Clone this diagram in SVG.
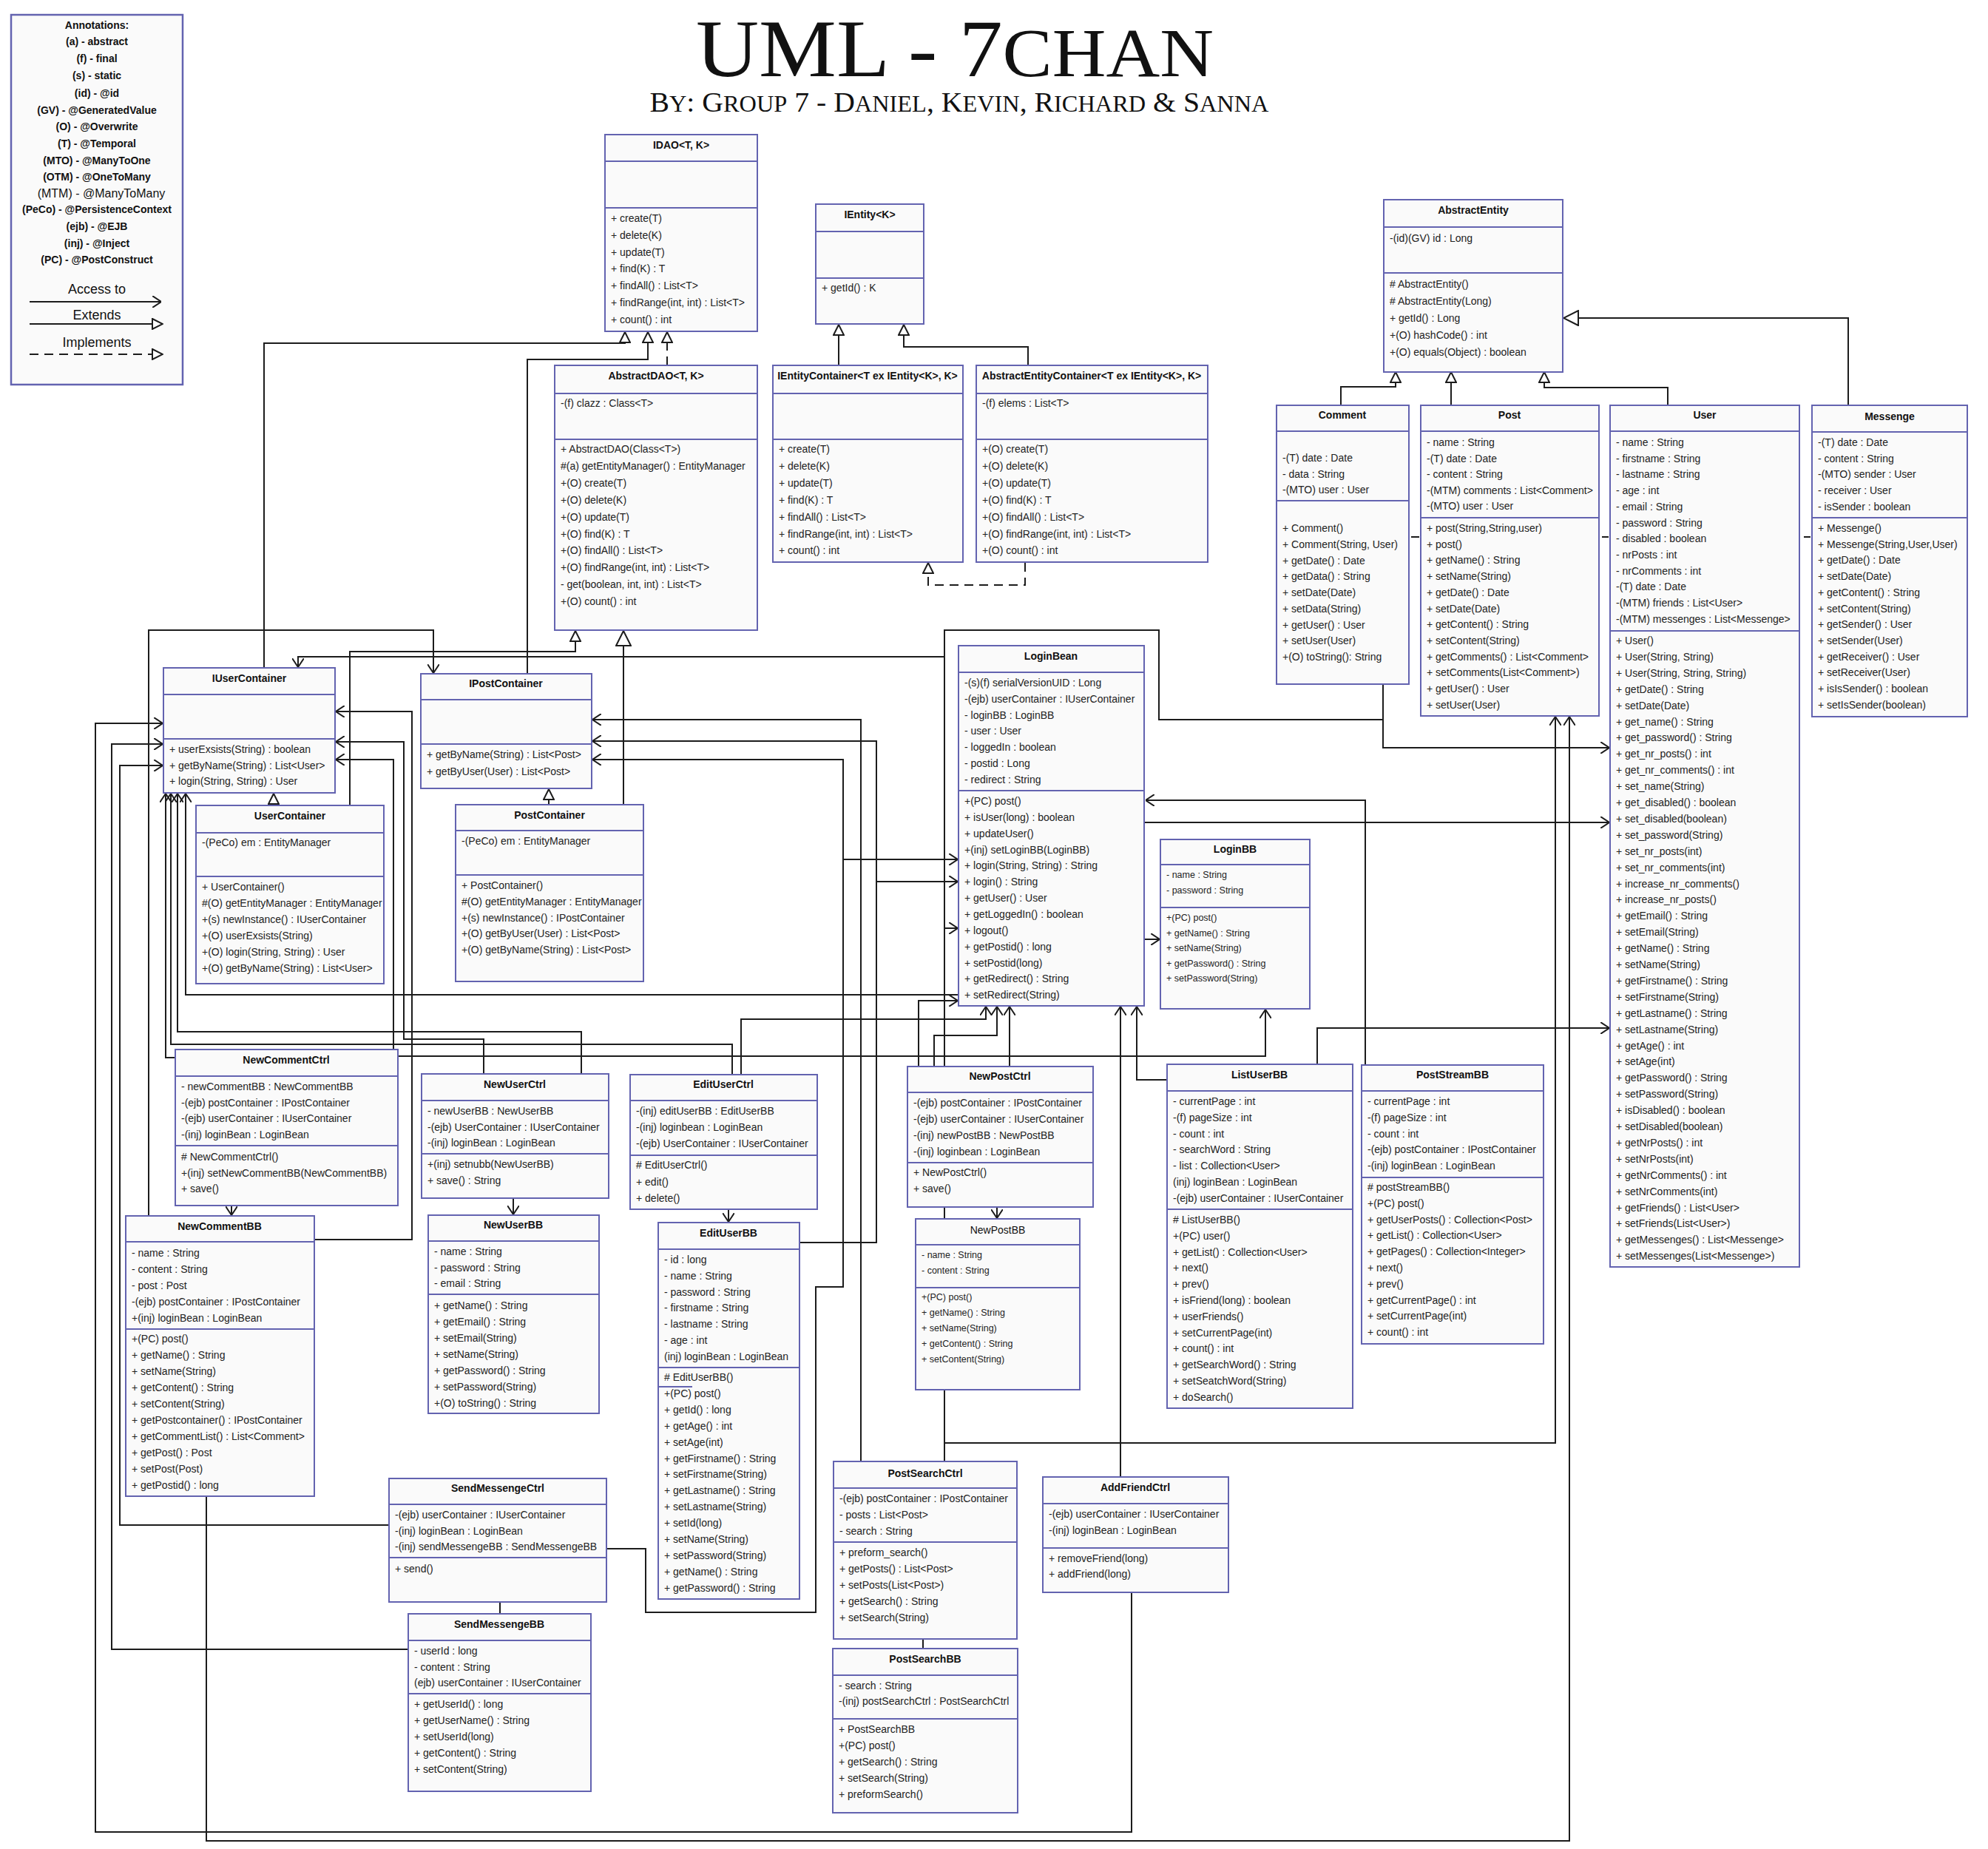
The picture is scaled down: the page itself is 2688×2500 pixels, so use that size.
<svg xmlns="http://www.w3.org/2000/svg" width="2688" height="2500" viewBox="0 0 2688 2500">
<defs>
<style>
.b{fill:#fafafa;stroke:#6363b0;stroke-width:2}
.d{fill:none;stroke:#6363b0;stroke-width:2}
.h{font-family:"Liberation Sans",Arial,sans-serif;font-size:14px;font-weight:bold;text-anchor:middle;fill:#111}
.t{font-family:"Liberation Sans",Arial,sans-serif;font-size:14px;fill:#222}
.s{font-family:"Liberation Sans",Arial,sans-serif;font-size:12.5px;fill:#222}
.c{fill:none;stroke:#1c1c1c;stroke-width:2}
.k{stroke-dasharray:12 8}
.a{marker-end:url(#op)}
.x{marker-end:url(#tr)}
.X{marker-end:url(#tb)}
.lg{font-family:"Liberation Sans",Arial,sans-serif;font-size:14px;font-weight:bold;text-anchor:middle;fill:#111}
</style>
<marker id="op" viewBox="0 0 12 16" refX="12" refY="8" markerWidth="12" markerHeight="16" markerUnits="userSpaceOnUse" orient="auto"><path d="M0 0L12 8L0 16" fill="none" stroke="#1c1c1c" stroke-width="2"/></marker>
<marker id="tr" viewBox="0 0 16 16" refX="15" refY="8" markerWidth="16" markerHeight="16" markerUnits="userSpaceOnUse" orient="auto"><path d="M1 1L15 8L1 15Z" fill="#fff" stroke="#1c1c1c" stroke-width="2"/></marker>
<marker id="tb" viewBox="0 0 22 22" refX="21" refY="11" markerWidth="22" markerHeight="22" markerUnits="userSpaceOnUse" orient="auto"><path d="M1 1L21 11L1 21Z" fill="#fff" stroke="#1c1c1c" stroke-width="2"/></marker>
</defs>
<rect width="2688" height="2500" fill="#fff"/>

<g id="legend">
<rect x="15" y="20" width="232" height="500" fill="#fafafa" stroke="#6363b0" stroke-width="2.5"/>
<text class="lg" x="131" y="39">Annotations:</text>
<text class="lg" x="131" y="61">(a) - abstract</text>
<text class="lg" x="131" y="84">(f) - final</text>
<text class="lg" x="131" y="107">(s) - static</text>
<text class="lg" x="131" y="131">(id) - @id</text>
<text class="lg" x="131" y="154">(GV) - @GeneratedValue</text>
<text class="lg" x="131" y="176">(O) - @Overwrite</text>
<text class="lg" x="131" y="199">(T) - @Temporal</text>
<text class="lg" x="131" y="222">(MTO) - @ManyToOne</text>
<text class="lg" x="131" y="244">(OTM) - @OneToMany</text>
<text class="lg" x="137" y="267" style="font-weight:normal;font-size:16px">(MTM) - @ManyToMany</text>
<text class="lg" x="131" y="288">(PeCo) - @PersistenceContext</text>
<text class="lg" x="131" y="311">(ejb) - @EJB</text>
<text class="lg" x="131" y="334">(inj) - @Inject</text>
<text class="lg" x="131" y="356">(PC) - @PostConstruct</text>
<text class="lg" x="131" y="397" style="font-weight:normal;font-size:18px">Access to</text>
<path class="c a" d="M40 408H218"/>
<text class="lg" x="131" y="432" style="font-weight:normal;font-size:18px">Extends</text>
<path class="c x" d="M40 438H220"/>
<text class="lg" x="131" y="469" style="font-weight:normal;font-size:18px">Implements</text>
<path class="c k x" d="M40 479H220"/>
</g>

<g id="title">
<text x="1291" y="103" text-anchor="middle" textLength="700" lengthAdjust="spacingAndGlyphs" style="font-family:'Liberation Serif',serif;font-size:110px;fill:#111">UML - 7<tspan font-size="94">CHAN</tspan></text>
<text x="1297" y="151" text-anchor="middle" textLength="837" lengthAdjust="spacingAndGlyphs" style="font-family:'Liberation Serif',serif;font-size:38px;fill:#111">B<tspan font-size="31">Y</tspan>: G<tspan font-size="31">ROUP</tspan> 7 - D<tspan font-size="31">ANIEL</tspan>, K<tspan font-size="31">EVIN</tspan>, R<tspan font-size="31">ICHARD</tspan> &amp; S<tspan font-size="31">ANNA</tspan></text>
</g>

<g id="connectors">
<path class="c x" d="M357 903V464H845V449"/>
<path class="c x" d="M713 911V486H876V449"/>
<path class="c k x" d="M902 494V449"/>
<path class="c x" d="M1134 494V439"/>
<path class="c x" d="M1390 494V469H1222V439"/>
<path class="c k x" d="M1386 761V791H1255V761"/>
<path class="c x" d="M473 1089V881H778V853"/>
<path class="c X" d="M843 1088V853"/>
<path class="c k x" d="M370 1089V1073"/>
<path class="c k x" d="M742 1088V1067"/>
<path class="c x" d="M1813 548V523H1887V503"/>
<path class="c x" d="M1962 548V503"/>
<path class="c x" d="M2255 548V524H2088V503"/>
<path class="c X" d="M2499 548V430H2114"/>
<path class="c" d="M1908 726H1919M2166 726H2175M2439 726H2448"/>
<path class="c a" d="M1870 925V1011H2176"/>
<path class="c" d="M1277 1976V852H1567V973H1870"/>
<path class="c a" d="M1277 888H403V902"/>
<path class="c a" d="M1277 1951H2103V969"/>
<path class="c a" d="M1277 1255H1295"/>
<path class="c a" d="M1164 1976V973H801"/>
<path class="c a" d="M1548 1112H2176"/>
<path class="c a" d="M1846 1440V1082H1549"/>
<path class="c a" d="M1781 1439V1390H2176"/>
<path class="c a" d="M1578 1460H1537V1361"/>
<path class="c a" d="M1515 1997V1361"/>
<path class="c a" d="M1548 1270H1568"/>
<path class="c a" d="M1365 1442V1361"/>
<path class="c a" d="M1242 1442V1353H1295"/>
<path class="c a" d="M1263 1442V1400H1348V1361"/>
<path class="c a" d="M538 1428H1711V1365"/>
<path class="c a" d="M1002 1453V1378H1333V1361"/>
<path class="c a" d="M990 1453V1412H231V1073"/>
<path class="c a" d="M786 1452V1395H240V1073"/>
<path class="c a" d="M654 1452V1405H546V1003H454"/>
<path class="c a" d="M1295 1345H251V1073"/>
<path class="c a" d="M1081 1680H1185V1002H801"/>
<path class="c a" d="M1185 1192H1295"/>
<path class="c a" d="M820 2094H873V2180H1103V1740H1140V1027H801"/>
<path class="c a" d="M1140 1162H1295"/>
<path class="c a" d="M313 1630V1643"/>
<path class="c a" d="M694 1620V1642"/>
<path class="c a" d="M985 1635V1652"/>
<path class="c a" d="M1348 1632V1647"/>
<path class="c" d="M676 2166V2182"/>
<path class="c" d="M1248 2216V2229"/>
<path class="c a" d="M1530 2153V2477H129V978H220"/>
<path class="c a" d="M552 2230H151V1006H220"/>
<path class="c a" d="M526 2062H162V1035H220"/>
<path class="c a" d="M425 1676H557V962H454"/>
<path class="c a" d="M201 1644V852H586V910"/>
<path class="c a" d="M237 1430H224V1073"/>
<path class="c a" d="M532 1419V1027H454"/>
<path class="c a" d="M279 2023V2489H2122V969"/>
</g>

<g id="IDAO">
<rect class="b" x="818" y="182" width="206" height="266"/>
<path class="d" d="M818 218H1024M818 281H1024"/>
<text class="h" x="921" y="201">IDAO&lt;T, K&gt;</text>
<text class="t"><tspan x="826" y="300">+ create(T)</tspan><tspan x="826" dy="22.8">+ delete(K)</tspan><tspan x="826" dy="22.8">+ update(T)</tspan><tspan x="826" dy="22.8">+ find(K) : T</tspan><tspan x="826" dy="22.8">+ findAll() : List&lt;T&gt;</tspan><tspan x="826" dy="22.8">+ findRange(int, int) : List&lt;T&gt;</tspan><tspan x="826" dy="22.8">+ count() : int</tspan></text>
</g>

<g id="IEntity">
<rect class="b" x="1103" y="276" width="146" height="162"/>
<path class="d" d="M1103 313H1249M1103 376H1249"/>
<text class="h" x="1176" y="295">IEntity&lt;K&gt;</text>
<text class="t" x="1111" y="394">+ getId() : K</text>
</g>

<g id="AbstractDAO">
<rect class="b" x="750" y="494" width="274" height="358"/>
<path class="d" d="M750 532H1024M750 594H1024"/>
<text class="h" x="887" y="513">AbstractDAO&lt;T, K&gt;</text>
<text class="t" x="758" y="550">-(f) clazz : Class&lt;T&gt;</text>
<text class="t"><tspan x="758" y="612">+ AbstractDAO(Class&lt;T&gt;)</tspan><tspan x="758" dy="22.9">#(a) getEntityManager() : EntityManager</tspan><tspan x="758" dy="22.9">+(O) create(T)</tspan><tspan x="758" dy="22.9">+(O) delete(K)</tspan><tspan x="758" dy="22.9">+(O) update(T)</tspan><tspan x="758" dy="22.9">+(O) find(K) : T</tspan><tspan x="758" dy="22.9">+(O) findAll() : List&lt;T&gt;</tspan><tspan x="758" dy="22.9">+(O) findRange(int, int) : List&lt;T&gt;</tspan><tspan x="758" dy="22.9">- get(boolean, int, int) : List&lt;T&gt;</tspan><tspan x="758" dy="22.9">+(O) count() : int</tspan></text>
</g>

<g id="IEntityContainer">
<rect class="b" x="1045" y="494" width="257" height="266"/>
<path class="d" d="M1045 532H1302M1045 594H1302"/>
<text class="h" x="1173" y="513">IEntityContainer&lt;T ex IEntity&lt;K&gt;, K&gt;</text>
<text class="t"><tspan x="1053" y="612">+ create(T)</tspan><tspan x="1053" dy="22.9">+ delete(K)</tspan><tspan x="1053" dy="22.9">+ update(T)</tspan><tspan x="1053" dy="22.9">+ find(K) : T</tspan><tspan x="1053" dy="22.9">+ findAll() : List&lt;T&gt;</tspan><tspan x="1053" dy="22.9">+ findRange(int, int) : List&lt;T&gt;</tspan><tspan x="1053" dy="22.9">+ count() : int</tspan></text>
</g>

<g id="AbstractEntityContainer">
<rect class="b" x="1320" y="494" width="313" height="266"/>
<path class="d" d="M1320 532H1633M1320 594H1633"/>
<text class="h" x="1476" y="513">AbstractEntityContainer&lt;T ex IEntity&lt;K&gt;, K&gt;</text>
<text class="t" x="1328" y="550">-(f) elems : List&lt;T&gt;</text>
<text class="t"><tspan x="1328" y="612">+(O) create(T)</tspan><tspan x="1328" dy="22.9">+(O) delete(K)</tspan><tspan x="1328" dy="22.9">+(O) update(T)</tspan><tspan x="1328" dy="22.9">+(O) find(K) : T</tspan><tspan x="1328" dy="22.9">+(O) findAll() : List&lt;T&gt;</tspan><tspan x="1328" dy="22.9">+(O) findRange(int, int) : List&lt;T&gt;</tspan><tspan x="1328" dy="22.9">+(O) count() : int</tspan></text>
</g>

<g id="AbstractEntity">
<rect class="b" x="1871" y="270" width="242" height="233"/>
<path class="d" d="M1871 307H2113M1871 369H2113"/>
<text class="h" x="1992" y="289">AbstractEntity</text>
<text class="t" x="1879" y="327">-(id)(GV) id : Long</text>
<text class="t"><tspan x="1879" y="389"># AbstractEntity()</tspan><tspan x="1879" dy="23"># AbstractEntity(Long)</tspan><tspan x="1879" dy="23">+ getId() : Long</tspan><tspan x="1879" dy="23">+(O) hashCode() : int</tspan><tspan x="1879" dy="23">+(O) equals(Object) : boolean</tspan></text>
</g>

<g id="Comment">
<rect class="b" x="1726" y="548" width="179" height="377"/>
<path class="d" d="M1726 583H1905M1726 677H1905"/>
<text class="h" x="1815" y="566">Comment</text>
<text class="t"><tspan x="1734" y="624">-(T) date : Date</tspan><tspan x="1734" dy="21.5">- data : String</tspan><tspan x="1734" dy="21.5">-(MTO) user : User</tspan></text>
<text class="t"><tspan x="1734" y="719">+ Comment()</tspan><tspan x="1734" dy="21.75">+ Comment(String, User)</tspan><tspan x="1734" dy="21.75">+ getDate() : Date</tspan><tspan x="1734" dy="21.75">+ getData() : String</tspan><tspan x="1734" dy="21.75">+ setDate(Date)</tspan><tspan x="1734" dy="21.75">+ setData(String)</tspan><tspan x="1734" dy="21.75">+ getUser() : User</tspan><tspan x="1734" dy="21.75">+ setUser(User)</tspan><tspan x="1734" dy="21.75">+(O) toString(): String</tspan></text>
</g>

<g id="Post">
<rect class="b" x="1921" y="548" width="241" height="420"/>
<path class="d" d="M1921 583H2162M1921 700H2162"/>
<text class="h" x="2041" y="566">Post</text>
<text class="t"><tspan x="1929" y="603">- name : String</tspan><tspan x="1929" dy="21.5">-(T) date : Date</tspan><tspan x="1929" dy="21.5">- content : String</tspan><tspan x="1929" dy="21.5">-(MTM) comments : List&lt;Comment&gt;</tspan><tspan x="1929" dy="21.5">-(MTO) user : User</tspan></text>
<text class="t"><tspan x="1929" y="719">+ post(String,String,user)</tspan><tspan x="1929" dy="21.7">+ post()</tspan><tspan x="1929" dy="21.7">+ getName() : String</tspan><tspan x="1929" dy="21.7">+ setName(String)</tspan><tspan x="1929" dy="21.7">+ getDate() : Date</tspan><tspan x="1929" dy="21.7">+ setDate(Date)</tspan><tspan x="1929" dy="21.7">+ getContent() : String</tspan><tspan x="1929" dy="21.7">+ setContent(String)</tspan><tspan x="1929" dy="21.7">+ getComments() : List&lt;Comment&gt;</tspan><tspan x="1929" dy="21.7">+ setComments(List&lt;Comment&gt;)</tspan><tspan x="1929" dy="21.7">+ getUser() : User</tspan><tspan x="1929" dy="21.7">+ setUser(User)</tspan></text>
</g>

<g id="User">
<rect class="b" x="2177" y="548" width="256" height="1165"/>
<path class="d" d="M2177 583H2433M2177 853H2433"/>
<text class="h" x="2305" y="566">User</text>
<text class="t"><tspan x="2185" y="603">- name : String</tspan><tspan x="2185" dy="21.7">- firstname : String</tspan><tspan x="2185" dy="21.7">- lastname : String</tspan><tspan x="2185" dy="21.7">- age : int</tspan><tspan x="2185" dy="21.7">- email : String</tspan><tspan x="2185" dy="21.7">- password : String</tspan><tspan x="2185" dy="21.7">- disabled : boolean</tspan><tspan x="2185" dy="21.7">- nrPosts : int</tspan><tspan x="2185" dy="21.7">- nrComments : int</tspan><tspan x="2185" dy="21.7">-(T) date : Date</tspan><tspan x="2185" dy="21.7">-(MTM) friends : List&lt;User&gt;</tspan><tspan x="2185" dy="21.7">-(MTM) messenges : List&lt;Messenge&gt;</tspan></text>
<text class="t"><tspan x="2185" y="871">+ User()</tspan><tspan x="2185" dy="21.9">+ User(String, String)</tspan><tspan x="2185" dy="21.9">+ User(String, String, String)</tspan><tspan x="2185" dy="21.9">+ getDate() : String</tspan><tspan x="2185" dy="21.9">+ setDate(Date)</tspan><tspan x="2185" dy="21.9">+ get_name() : String</tspan><tspan x="2185" dy="21.9">+ get_password() : String</tspan><tspan x="2185" dy="21.9">+ get_nr_posts() : int</tspan><tspan x="2185" dy="21.9">+ get_nr_comments() : int</tspan><tspan x="2185" dy="21.9">+ set_name(String)</tspan><tspan x="2185" dy="21.9">+ get_disabled() : boolean</tspan><tspan x="2185" dy="21.9">+ set_disabled(boolean)</tspan><tspan x="2185" dy="21.9">+ set_password(String)</tspan><tspan x="2185" dy="21.9">+ set_nr_posts(int)</tspan><tspan x="2185" dy="21.9">+ set_nr_comments(int)</tspan><tspan x="2185" dy="21.9">+ increase_nr_comments()</tspan><tspan x="2185" dy="21.9">+ increase_nr_posts()</tspan><tspan x="2185" dy="21.9">+ getEmail() : String</tspan><tspan x="2185" dy="21.9">+ setEmail(String)</tspan><tspan x="2185" dy="21.9">+ getName() : String</tspan><tspan x="2185" dy="21.9">+ setName(String)</tspan><tspan x="2185" dy="21.9">+ getFirstname() : String</tspan><tspan x="2185" dy="21.9">+ setFirstname(String)</tspan><tspan x="2185" dy="21.9">+ getLastname() : String</tspan><tspan x="2185" dy="21.9">+ setLastname(String)</tspan><tspan x="2185" dy="21.9">+ getAge() : int</tspan><tspan x="2185" dy="21.9">+ setAge(int)</tspan><tspan x="2185" dy="21.9">+ getPassword() : String</tspan><tspan x="2185" dy="21.9">+ setPassword(String)</tspan><tspan x="2185" dy="21.9">+ isDisabled() : boolean</tspan><tspan x="2185" dy="21.9">+ setDisabled(boolean)</tspan><tspan x="2185" dy="21.9">+ getNrPosts() : int</tspan><tspan x="2185" dy="21.9">+ setNrPosts(int)</tspan><tspan x="2185" dy="21.9">+ getNrComments() : int</tspan><tspan x="2185" dy="21.9">+ setNrComments(int)</tspan><tspan x="2185" dy="21.9">+ getFriends() : List&lt;User&gt;</tspan><tspan x="2185" dy="21.9">+ setFriends(List&lt;User&gt;)</tspan><tspan x="2185" dy="21.9">+ getMessenges() : List&lt;Messenge&gt;</tspan><tspan x="2185" dy="21.9">+ setMessenges(List&lt;Messenge&gt;)</tspan></text>
</g>

<g id="Messenge">
<rect class="b" x="2450" y="548" width="210" height="421"/>
<path class="d" d="M2450 584H2660M2450 700H2660"/>
<text class="h" x="2555" y="568">Messenge</text>
<text class="t"><tspan x="2458" y="603">-(T) date : Date</tspan><tspan x="2458" dy="21.7">- content : String</tspan><tspan x="2458" dy="21.7">-(MTO) sender : User</tspan><tspan x="2458" dy="21.7">- receiver : User</tspan><tspan x="2458" dy="21.7">- isSender : boolean</tspan></text>
<text class="t"><tspan x="2458" y="719">+ Messenge()</tspan><tspan x="2458" dy="21.7">+ Messenge(String,User,User)</tspan><tspan x="2458" dy="21.7">+ getDate() : Date</tspan><tspan x="2458" dy="21.7">+ setDate(Date)</tspan><tspan x="2458" dy="21.7">+ getContent() : String</tspan><tspan x="2458" dy="21.7">+ setContent(String)</tspan><tspan x="2458" dy="21.7">+ getSender() : User</tspan><tspan x="2458" dy="21.7">+ setSender(User)</tspan><tspan x="2458" dy="21.7">+ getReceiver() : User</tspan><tspan x="2458" dy="21.7">+ setReceiver(User)</tspan><tspan x="2458" dy="21.7">+ isIsSender() : boolean</tspan><tspan x="2458" dy="21.7">+ setIsSender(boolean)</tspan></text>
</g>

<g id="IUserContainer">
<rect class="b" x="221" y="903" width="232" height="169"/>
<path class="d" d="M221 939H453M221 999H453"/>
<text class="h" x="337" y="922">IUserContainer</text>
<text class="t"><tspan x="229" y="1018">+ userExsists(String) : boolean</tspan><tspan x="229" dy="21.5">+ getByName(String) : List&lt;User&gt;</tspan><tspan x="229" dy="21.5">+ login(String, String) : User</tspan></text>
</g>

<g id="UserContainer">
<rect class="b" x="265" y="1089" width="254" height="241"/>
<path class="d" d="M265 1126H519M265 1185H519"/>
<text class="h" x="392" y="1108">UserContainer</text>
<text class="t" x="273" y="1144">-(PeCo) em : EntityManager</text>
<text class="t"><tspan x="273" y="1204">+ UserContainer()</tspan><tspan x="273" dy="22">#(O) getEntityManager : EntityManager</tspan><tspan x="273" dy="22">+(s) newInstance() : IUserContainer</tspan><tspan x="273" dy="22">+(O) userExsists(String)</tspan><tspan x="273" dy="22">+(O) login(String, String) : User</tspan><tspan x="273" dy="22">+(O) getByName(String) : List&lt;User&gt;</tspan></text>
</g>

<g id="IPostContainer">
<rect class="b" x="569" y="911" width="231" height="155"/>
<path class="d" d="M569 946H800M569 1006H800"/>
<text class="h" x="684" y="929">IPostContainer</text>
<text class="t"><tspan x="577" y="1025">+ getByName(String) : List&lt;Post&gt;</tspan><tspan x="577" dy="23">+ getByUser(User) : List&lt;Post&gt;</tspan></text>
</g>

<g id="PostContainer">
<rect class="b" x="616" y="1088" width="254" height="239"/>
<path class="d" d="M616 1123H870M616 1183H870"/>
<text class="h" x="743" y="1107">PostContainer</text>
<text class="t" x="624" y="1142">-(PeCo) em : EntityManager</text>
<text class="t"><tspan x="624" y="1202">+ PostContainer()</tspan><tspan x="624" dy="21.8">#(O) getEntityManager : EntityManager</tspan><tspan x="624" dy="21.8">+(s) newInstance() : IPostContainer</tspan><tspan x="624" dy="21.8">+(O) getByUser(User) : List&lt;Post&gt;</tspan><tspan x="624" dy="21.8">+(O) getByName(String) : List&lt;Post&gt;</tspan></text>
</g>

<g id="LoginBean">
<rect class="b" x="1296" y="873" width="251" height="487"/>
<path class="d" d="M1296 909H1547M1296 1069H1547"/>
<text class="h" x="1421" y="892">LoginBean</text>
<text class="t"><tspan x="1304" y="928">-(s)(f) serialVersionUID : Long</tspan><tspan x="1304" dy="21.8">-(ejb) userContainer : IUserContainer</tspan><tspan x="1304" dy="21.8">- loginBB : LoginBB</tspan><tspan x="1304" dy="21.8">- user : User</tspan><tspan x="1304" dy="21.8">- loggedIn : boolean</tspan><tspan x="1304" dy="21.8">- postid : Long</tspan><tspan x="1304" dy="21.8">- redirect : String</tspan></text>
<text class="t"><tspan x="1304" y="1088">+(PC) post()</tspan><tspan x="1304" dy="21.85">+ isUser(long) : boolean</tspan><tspan x="1304" dy="21.85">+ updateUser()</tspan><tspan x="1304" dy="21.85">+(inj) setLoginBB(LoginBB)</tspan><tspan x="1304" dy="21.85">+ login(String, String) : String</tspan><tspan x="1304" dy="21.85">+ login() : String</tspan><tspan x="1304" dy="21.85">+ getUser() : User</tspan><tspan x="1304" dy="21.85">+ getLoggedIn() : boolean</tspan><tspan x="1304" dy="21.85">+ logout()</tspan><tspan x="1304" dy="21.85">+ getPostid() : long</tspan><tspan x="1304" dy="21.85">+ setPostid(long)</tspan><tspan x="1304" dy="21.85">+ getRedirect() : String</tspan><tspan x="1304" dy="21.85">+ setRedirect(String)</tspan></text>
</g>

<g id="LoginBB">
<rect class="b" x="1569" y="1135" width="202" height="229"/>
<path class="d" d="M1569 1169H1771M1569 1227H1771"/>
<text class="h" x="1670" y="1153">LoginBB</text>
<text class="s"><tspan x="1577" y="1187">- name : String</tspan><tspan x="1577" dy="21">- password : String</tspan></text>
<text class="s"><tspan x="1577" y="1245">+(PC) post()</tspan><tspan x="1577" dy="20.5">+ getName() : String</tspan><tspan x="1577" dy="20.5">+ setName(String)</tspan><tspan x="1577" dy="20.5">+ getPassword() : String</tspan><tspan x="1577" dy="20.5">+ setPassword(String)</tspan></text>
</g>

<g id="NewCommentCtrl">
<rect class="b" x="237" y="1419" width="301" height="211"/>
<path class="d" d="M237 1455H538M237 1549H538"/>
<text class="h" x="387" y="1438">NewCommentCtrl</text>
<text class="t"><tspan x="245" y="1474">- newCommentBB : NewCommentBB</tspan><tspan x="245" dy="21.7">-(ejb) postContainer : IPostContainer</tspan><tspan x="245" dy="21.7">-(ejb) userContainer : IUserContainer</tspan><tspan x="245" dy="21.7">-(inj) loginBean : LoginBean</tspan></text>
<text class="t"><tspan x="245" y="1569"># NewCommentCtrl()</tspan><tspan x="245" dy="21.5">+(inj) setNewCommentBB(NewCommentBB)</tspan><tspan x="245" dy="21.5">+ save()</tspan></text>
</g>

<g id="NewCommentBB">
<rect class="b" x="170" y="1644" width="255" height="379"/>
<path class="d" d="M170 1679H425M170 1797H425"/>
<text class="h" x="297" y="1663">NewCommentBB</text>
<text class="t"><tspan x="178" y="1699">- name : String</tspan><tspan x="178" dy="22">- content : String</tspan><tspan x="178" dy="22">- post : Post</tspan><tspan x="178" dy="22">-(ejb) postContainer : IPostContainer</tspan><tspan x="178" dy="22">+(inj) loginBean : LoginBean</tspan></text>
<text class="t"><tspan x="178" y="1815">+(PC) post()</tspan><tspan x="178" dy="22">+ getName() : String</tspan><tspan x="178" dy="22">+ setName(String)</tspan><tspan x="178" dy="22">+ getContent() : String</tspan><tspan x="178" dy="22">+ setContent(String)</tspan><tspan x="178" dy="22">+ getPostcontainer() : IPostContainer</tspan><tspan x="178" dy="22">+ getCommentList() : List&lt;Comment&gt;</tspan><tspan x="178" dy="22">+ getPost() : Post</tspan><tspan x="178" dy="22">+ setPost(Post)</tspan><tspan x="178" dy="22">+ getPostid() : long</tspan></text>
</g>

<g id="NewUserCtrl">
<rect class="b" x="570" y="1452" width="253" height="168"/>
<path class="d" d="M570 1488H823M570 1560H823"/>
<text class="h" x="696" y="1471">NewUserCtrl</text>
<text class="t"><tspan x="578" y="1507">- newUserBB : NewUserBB</tspan><tspan x="578" dy="21.5">-(ejb) UserContainer : IUserContainer</tspan><tspan x="578" dy="21.5">-(inj) loginBean : LoginBean</tspan></text>
<text class="t"><tspan x="578" y="1579">+(inj) setnubb(NewUserBB)</tspan><tspan x="578" dy="22">+ save() : String</tspan></text>
</g>

<g id="NewUserBB">
<rect class="b" x="579" y="1643" width="231" height="268"/>
<path class="d" d="M579 1678H810M579 1750H810"/>
<text class="h" x="694" y="1661">NewUserBB</text>
<text class="t"><tspan x="587" y="1697">- name : String</tspan><tspan x="587" dy="21.5">- password : String</tspan><tspan x="587" dy="21.5">- email : String</tspan></text>
<text class="t"><tspan x="587" y="1770">+ getName() : String</tspan><tspan x="587" dy="22">+ getEmail() : String</tspan><tspan x="587" dy="22">+ setEmail(String)</tspan><tspan x="587" dy="22">+ setName(String)</tspan><tspan x="587" dy="22">+ getPassword() : String</tspan><tspan x="587" dy="22">+ setPassword(String)</tspan><tspan x="587" dy="22">+(O) toString() : String</tspan></text>
</g>

<g id="EditUserCtrl">
<rect class="b" x="852" y="1453" width="253" height="182"/>
<path class="d" d="M852 1488H1105M852 1562H1105"/>
<text class="h" x="978" y="1471">EditUserCtrl</text>
<text class="t"><tspan x="860" y="1507">-(inj) editUserBB : EditUserBB</tspan><tspan x="860" dy="22">-(inj) loginbean : LoginBean</tspan><tspan x="860" dy="22">-(ejb) UserContainer : IUserContainer</tspan></text>
<text class="t"><tspan x="860" y="1580"># EditUserCtrl()</tspan><tspan x="860" dy="22.5">+ edit()</tspan><tspan x="860" dy="22.5">+ delete()</tspan></text>
</g>

<g id="EditUserBB">
<rect class="b" x="890" y="1653" width="191" height="509"/>
<path class="d" d="M890 1689H1081M890 1849H1081M890 1875H936"/>
<text class="h" x="985" y="1672">EditUserBB</text>
<text class="t"><tspan x="898" y="1708">- id : long</tspan><tspan x="898" dy="21.8">- name : String</tspan><tspan x="898" dy="21.8">- password : String</tspan><tspan x="898" dy="21.8">- firstname : String</tspan><tspan x="898" dy="21.8">- lastname : String</tspan><tspan x="898" dy="21.8">- age : int</tspan><tspan x="898" dy="21.8">(inj) loginBean : LoginBean</tspan></text>
<text class="t"><tspan x="898" y="1867"># EditUserBB()</tspan><tspan x="898" dy="21.9">+(PC) post()</tspan><tspan x="898" dy="21.9">+ getId() : long</tspan><tspan x="898" dy="21.9">+ getAge() : int</tspan><tspan x="898" dy="21.9">+ setAge(int)</tspan><tspan x="898" dy="21.9">+ getFirstname() : String</tspan><tspan x="898" dy="21.9">+ setFirstname(String)</tspan><tspan x="898" dy="21.9">+ getLastname() : String</tspan><tspan x="898" dy="21.9">+ setLastname(String)</tspan><tspan x="898" dy="21.9">+ setId(long)</tspan><tspan x="898" dy="21.9">+ setName(String)</tspan><tspan x="898" dy="21.9">+ setPassword(String)</tspan><tspan x="898" dy="21.9">+ getName() : String</tspan><tspan x="898" dy="21.9">+ getPassword() : String</tspan></text>
</g>

<g id="SendMessengeCtrl">
<rect class="b" x="526" y="1999" width="294" height="167"/>
<path class="d" d="M526 2034H820M526 2106H820"/>
<text class="h" x="673" y="2017">SendMessengeCtrl</text>
<text class="t"><tspan x="534" y="2053">-(ejb) userContainer : IUserContainer</tspan><tspan x="534" dy="21.7">-(inj) loginBean : LoginBean</tspan><tspan x="534" dy="21.7">-(inj) sendMessengeBB : SendMessengeBB</tspan></text>
<text class="t" x="534" y="2126">+ send()</text>
</g>

<g id="SendMessengeBB">
<rect class="b" x="552" y="2182" width="247" height="240"/>
<path class="d" d="M552 2218H799M552 2290H799"/>
<text class="h" x="675" y="2201">SendMessengeBB</text>
<text class="t"><tspan x="560" y="2237">- userId : long</tspan><tspan x="560" dy="21.7">- content : String</tspan><tspan x="560" dy="21.7">(ejb) userContainer : IUserContainer</tspan></text>
<text class="t"><tspan x="560" y="2309">+ getUserId() : long</tspan><tspan x="560" dy="22">+ getUserName() : String</tspan><tspan x="560" dy="22">+ setUserId(long)</tspan><tspan x="560" dy="22">+ getContent() : String</tspan><tspan x="560" dy="22">+ setContent(String)</tspan></text>
</g>

<g id="NewPostCtrl">
<rect class="b" x="1227" y="1442" width="251" height="190"/>
<path class="d" d="M1227 1477H1478M1227 1572H1478"/>
<text class="h" x="1352" y="1460">NewPostCtrl</text>
<text class="t"><tspan x="1235" y="1496">-(ejb) postContainer : IPostContainer</tspan><tspan x="1235" dy="22">-(ejb) userContainer : IUserContainer</tspan><tspan x="1235" dy="22">-(inj) newPostBB : NewPostBB</tspan><tspan x="1235" dy="22">-(inj) loginbean : LoginBean</tspan></text>
<text class="t"><tspan x="1235" y="1590">+ NewPostCtrl()</tspan><tspan x="1235" dy="22">+ save()</tspan></text>
</g>

<g id="NewPostBB">
<rect class="b" x="1238" y="1648" width="222" height="231"/>
<path class="d" d="M1238 1683H1460M1238 1741H1460"/>
<text class="h" x="1349" y="1668" style="font-weight:normal">NewPostBB</text>
<text class="s"><tspan x="1246" y="1701">- name : String</tspan><tspan x="1246" dy="21">- content : String</tspan></text>
<text class="s"><tspan x="1246" y="1758">+(PC) post()</tspan><tspan x="1246" dy="21">+ getName() : String</tspan><tspan x="1246" dy="21">+ setName(String)</tspan><tspan x="1246" dy="21">+ getContent() : String</tspan><tspan x="1246" dy="21">+ setContent(String)</tspan></text>
</g>

<g id="ListUserBB">
<rect class="b" x="1578" y="1439" width="251" height="465"/>
<path class="d" d="M1578 1475H1829M1578 1635H1829"/>
<text class="h" x="1703" y="1458">ListUserBB</text>
<text class="t"><tspan x="1586" y="1494">- currentPage : int</tspan><tspan x="1586" dy="21.8">-(f) pageSize : int</tspan><tspan x="1586" dy="21.8">- count : int</tspan><tspan x="1586" dy="21.8">- searchWord : String</tspan><tspan x="1586" dy="21.8">- list : Collection&lt;User&gt;</tspan><tspan x="1586" dy="21.8">(inj) loginBean : LoginBean</tspan><tspan x="1586" dy="21.8">-(ejb) userContainer : IUserContainer</tspan></text>
<text class="t"><tspan x="1586" y="1654"># ListUserBB()</tspan><tspan x="1586" dy="21.8">+(PC) user()</tspan><tspan x="1586" dy="21.8">+ getList() : Collection&lt;User&gt;</tspan><tspan x="1586" dy="21.8">+ next()</tspan><tspan x="1586" dy="21.8">+ prev()</tspan><tspan x="1586" dy="21.8">+ isFriend(long) : boolean</tspan><tspan x="1586" dy="21.8">+ userFriends()</tspan><tspan x="1586" dy="21.8">+ setCurrentPage(int)</tspan><tspan x="1586" dy="21.8">+ count() : int</tspan><tspan x="1586" dy="21.8">+ getSearchWord() : String</tspan><tspan x="1586" dy="21.8">+ setSeatchWord(String)</tspan><tspan x="1586" dy="21.8">+ doSearch()</tspan></text>
</g>

<g id="PostStreamBB">
<rect class="b" x="1841" y="1440" width="246" height="377"/>
<path class="d" d="M1841 1475H2087M1841 1592H2087"/>
<text class="h" x="1964" y="1458">PostStreamBB</text>
<text class="t"><tspan x="1849" y="1494">- currentPage : int</tspan><tspan x="1849" dy="21.8">-(f) pageSize : int</tspan><tspan x="1849" dy="21.8">- count : int</tspan><tspan x="1849" dy="21.8">-(ejb) postContainer : IPostContainer</tspan><tspan x="1849" dy="21.8">-(inj) loginBean : LoginBean</tspan></text>
<text class="t"><tspan x="1849" y="1610"># postStreamBB()</tspan><tspan x="1849" dy="21.8">+(PC) post()</tspan><tspan x="1849" dy="21.8">+ getUserPosts() : Collection&lt;Post&gt;</tspan><tspan x="1849" dy="21.8">+ getList() : Collection&lt;User&gt;</tspan><tspan x="1849" dy="21.8">+ getPages() : Collection&lt;Integer&gt;</tspan><tspan x="1849" dy="21.8">+ next()</tspan><tspan x="1849" dy="21.8">+ prev()</tspan><tspan x="1849" dy="21.8">+ getCurrentPage() : int</tspan><tspan x="1849" dy="21.8">+ setCurrentPage(int)</tspan><tspan x="1849" dy="21.8">+ count() : int</tspan></text>
</g>

<g id="PostSearchCtrl">
<rect class="b" x="1127" y="1976" width="248" height="240"/>
<path class="d" d="M1127 2012H1375M1127 2085H1375"/>
<text class="h" x="1251" y="1997">PostSearchCtrl</text>
<text class="t"><tspan x="1135" y="2031">-(ejb) postContainer : IPostContainer</tspan><tspan x="1135" dy="22">- posts : List&lt;Post&gt;</tspan><tspan x="1135" dy="22">- search : String</tspan></text>
<text class="t"><tspan x="1135" y="2104">+ preform_search()</tspan><tspan x="1135" dy="22">+ getPosts() : List&lt;Post&gt;</tspan><tspan x="1135" dy="22">+ setPosts(List&lt;Post&gt;)</tspan><tspan x="1135" dy="22">+ getSearch() : String</tspan><tspan x="1135" dy="22">+ setSearch(String)</tspan></text>
</g>

<g id="PostSearchBB">
<rect class="b" x="1126" y="2229" width="250" height="222"/>
<path class="d" d="M1126 2265H1376M1126 2324H1376"/>
<text class="h" x="1251" y="2248">PostSearchBB</text>
<text class="t"><tspan x="1134" y="2284">- search : String</tspan><tspan x="1134" dy="21">-(inj) postSearchCtrl : PostSearchCtrl</tspan></text>
<text class="t"><tspan x="1134" y="2343">+ PostSearchBB</tspan><tspan x="1134" dy="22">+(PC) post()</tspan><tspan x="1134" dy="22">+ getSearch() : String</tspan><tspan x="1134" dy="22">+ setSearch(String)</tspan><tspan x="1134" dy="22">+ preformSearch()</tspan></text>
</g>

<g id="AddFriendCtrl">
<rect class="b" x="1410" y="1997" width="251" height="156"/>
<path class="d" d="M1410 2033H1661M1410 2093H1661"/>
<text class="h" x="1535" y="2016">AddFriendCtrl</text>
<text class="t"><tspan x="1418" y="2052">-(ejb) userContainer : IUserContainer</tspan><tspan x="1418" dy="22">-(inj) loginBean : LoginBean</tspan></text>
<text class="t"><tspan x="1418" y="2112">+ removeFriend(long)</tspan><tspan x="1418" dy="21">+ addFriend(long)</tspan></text>
</g>
</svg>
